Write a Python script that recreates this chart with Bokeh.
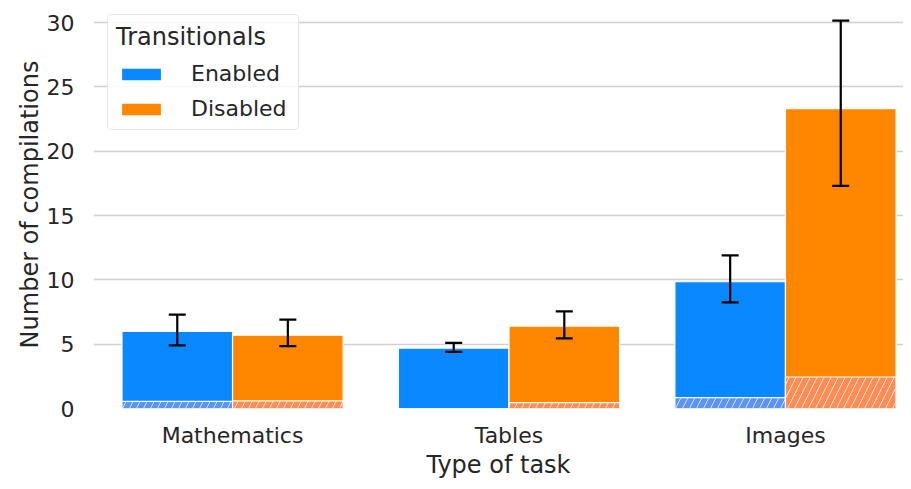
from bokeh.plotting import figure
from bokeh.models import (ColumnDataSource, Whisker, TeeHead, Range1d, FixedTicker,
                          Legend, LegendItem)
from bokeh.embed import file_html
from bokeh.resources import INLINE

categories = ["Mathematics", "Tables", "Images"]
series = ["Enabled", "Disabled"]
enabled_mean = [6.0, 4.7, 9.85]
enabled_low = [4.9, 4.4, 8.25]
enabled_high = [7.3, 5.1, 11.9]
enabled_hatched = [0.55, 0.0, 0.85]
disabled_mean = [5.7, 6.4, 23.3]
disabled_low = [4.85, 5.45, 17.3]
disabled_high = [6.9, 7.55, 30.15]
disabled_hatched = [0.6, 0.45, 2.45]
y_ticks = [0, 5, 10, 15, 20, 25, 30]

FONT = "DejaVu Sans"
TXT = "#262626"
BLUE = "#0a88ff"
ORANGE = "#ff8700"
BLUE_H = "#5c92fb"
ORANGE_H = "#ff8c55"
BAR_W = 0.4

p = figure(width=903, height=481, output_backend="svg", toolbar_location=None,
           x_range=Range1d(-0.503, 2.427), y_range=Range1d(0, 31.71),
           min_border_left=93, min_border_right=0, min_border_top=0, min_border_bottom=73)
p.outline_line_color = None
p.background_fill_color = "white"

idx = list(range(len(categories)))
xs_e = [i - BAR_W / 2 for i in idx]
xs_d = [i + BAR_W / 2 for i in idx]

src_e = ColumnDataSource(dict(x=xs_e, top=enabled_mean, lo=enabled_low, hi=enabled_high, h=enabled_hatched))
src_d = ColumnDataSource(dict(x=xs_d, top=disabled_mean, lo=disabled_low, hi=disabled_high, h=disabled_hatched))

r_e = p.vbar(x="x", top="top", bottom=0, width=BAR_W, source=src_e, fill_color=BLUE,
             line_color="white", line_width=1.2)
r_d = p.vbar(x="x", top="top", bottom=0, width=BAR_W, source=src_d, fill_color=ORANGE,
             line_color="white", line_width=1.2)
p.vbar(x="x", top="h", bottom=0, width=BAR_W, source=src_e, fill_color=BLUE_H,
       line_color="white", line_width=1.2, hatch_pattern="/", hatch_color="white",
       hatch_alpha=0.75, hatch_scale=14, hatch_weight=1)
p.vbar(x="x", top="h", bottom=0, width=BAR_W, source=src_d, fill_color=ORANGE_H,
       line_color="white", line_width=1.2, hatch_pattern="/", hatch_color="white",
       hatch_alpha=0.75, hatch_scale=14, hatch_weight=1)

for src in (src_e, src_d):
    w = Whisker(base="x", upper="hi", lower="lo", source=src, line_color="black", line_width=2.2,
                level="overlay",
                upper_head=TeeHead(size=17, line_width=2.2, line_color="black"),
                lower_head=TeeHead(size=17, line_width=2.2, line_color="black"))
    p.add_layout(w)

p.xgrid.grid_line_color = None
p.ygrid.grid_line_color = "#d0d0d0"
p.ygrid.grid_line_width = 1.5
p.yaxis.ticker = FixedTicker(ticks=y_ticks)
p.xaxis.ticker = FixedTicker(ticks=idx)
p.xaxis.major_label_overrides = {i: c for i, c in zip(idx, categories)}

for ax in (p.xaxis[0], p.yaxis[0]):
    ax.axis_line_color = None
    ax.major_tick_line_color = None
    ax.minor_tick_line_color = None
    ax.major_label_text_font = FONT
    ax.major_label_text_font_size = "22px"
    ax.major_label_text_color = TXT
    ax.axis_label_text_font = FONT
    ax.axis_label_text_font_size = "24px"
    ax.axis_label_text_font_style = "normal"
    ax.axis_label_text_color = TXT

p.xaxis.axis_label = "Type of task"
p.yaxis.axis_label = "Number of compilations"
p.xaxis.major_label_standoff = 8
p.xaxis.axis_label_standoff = 0
p.yaxis.major_label_standoff = 13
p.yaxis.axis_label_standoff = 0

legend = Legend(items=[LegendItem(label=series[0], renderers=[r_e]),
                       LegendItem(label=series[1], renderers=[r_d])],
                location=(14, 278))
legend.title = "Transitionals"
legend.title_text_font = FONT
legend.title_text_font_size = "24px"
legend.title_text_font_style = "normal"
legend.title_text_color = TXT
legend.title_standoff = 10
legend.label_text_font = FONT
legend.label_text_font_size = "22px"
legend.label_text_color = TXT
legend.label_width = 99
legend.glyph_width = 50
legend.glyph_height = 16
legend.label_standoff = 25
legend.spacing = 10
legend.padding = 8
legend.margin = 0
legend.border_line_color = "#cccccc"
legend.border_line_width = 1.2
legend.border_radius = 5
legend.background_fill_alpha = 0.85
p.add_layout(legend, "center")

open("out.html", "w").write(file_html(p, INLINE))
